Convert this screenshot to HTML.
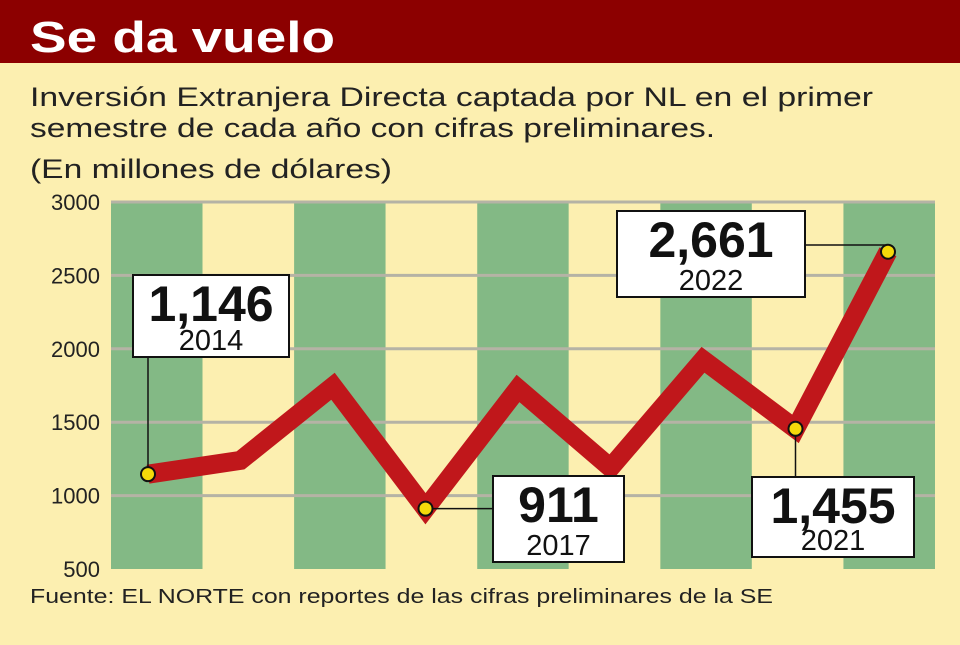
<!DOCTYPE html>
<html><head><meta charset="utf-8"><style>
body{margin:0;width:960px;height:640px;overflow:hidden;background:#fcefb0;font-family:"Liberation Sans",sans-serif}
</style></head><body>
<svg width="960" height="640" xmlns="http://www.w3.org/2000/svg">
<rect x="0" y="0" width="960" height="640" fill="#fcefb0"/>
<rect x="0" y="0" width="960" height="63" fill="#8c0000"/>
<text x="30" y="52" font-size="44" font-weight="bold" fill="#fff" textLength="305" lengthAdjust="spacingAndGlyphs">Se da vuelo</text>
<text x="30" y="106" font-size="27" fill="#222" textLength="843" lengthAdjust="spacingAndGlyphs">Inversión Extranjera Directa captada por NL en el primer</text>
<text x="30" y="137" font-size="27" fill="#222" textLength="685" lengthAdjust="spacingAndGlyphs">semestre de cada año con cifras preliminares.</text>
<text x="30" y="178" font-size="27" fill="#222" textLength="362" lengthAdjust="spacingAndGlyphs">(En millones de dólares)</text>
<g id="stripes"></g><g id="grid"></g><g id="yticks"></g><g id="lines"></g>
<text x="30" y="603" font-size="20" fill="#222" textLength="743" lengthAdjust="spacingAndGlyphs">Fuente: EL NORTE con reportes de las cifras preliminares de la SE</text>
</svg>
<script>
const years=[2014,2015,2016,2017,2018,2019,2020,2021,2022];
const values=[1146,1240,1745,911,1730,1190,1925,1455,2661];
const yTicks=[500,1000,1500,2000,2500,3000];
const ns="http://www.w3.org/2000/svg";
const L=111,R=935,T=202,B=569;
const y=v=>B-(v-500)/2500*(B-T);
const colW=(R-L)/years.length;
const x=i=>148+i*92.5;
function mk(t,a,p){const e=document.createElementNS(ns,t);for(const k in a)e.setAttribute(k,a[k]);(p||document.querySelector('svg')).appendChild(e);return e;}
years.forEach((yr,i)=>{
 const r=mk('rect',{x:L+i*colW,y:T,width:colW,height:B-T,fill:i%2==0?'#83b985':'#fcefb0'},document.getElementById('stripes'));
 
 
});
yTicks.forEach(v=>{
 if(v>500){const g=mk('line',{x1:L,x2:R,y1:y(v),y2:y(v),stroke:'#b5b3a5','stroke-width':3},document.getElementById('grid'));
 
 }
 const t=mk('text',{x:100,y:y(v)+8,'font-size':22,fill:'#222','text-anchor':'end'},document.getElementById('yticks'));
 
 
 t.textContent=v;
});
const pts=values.map((v,i)=>x(i)+','+y(v)).join(' ');
const ln=mk('polyline',{points:pts,fill:'none',stroke:'#c0171b','stroke-width':19,'stroke-linejoin':'miter','stroke-miterlimit':3},document.getElementById('lines'));


const callouts=[[0,133,275,156,82,'v'],[3,493,476,131,86,'h'],[7,752,477,162,80,'v'],[8,617,211,188,86,'h2']];
callouts.forEach(([i,bx,by,bw,bh,tp])=>{
 const px=x(i),py=y(values[i]);
 let d;
 if(tp=='v')d=py<by?`M${px},${py} V${by}`:`M${px},${py} V${by+bh}`;
 else if(tp=='h')d=`M${px},${py} H${bx}`;
 else d=`M${bx+bw},${by+34} H${px} V${py}`;
 const l=mk('path',{d:d,stroke:'#111','stroke-width':1.5,fill:'none'});
 
 
 const b=mk('rect',{x:bx,y:by,width:bw,height:bh,fill:'#fff',stroke:'#111','stroke-width':2});
 
 
 const v=mk('text',{x:bx+bw/2,y:by+46,'font-size':50,'font-weight':'bold',fill:'#111','text-anchor':'middle'});
 
 
 v.textContent=values[i].toLocaleString('en-US');
 const yt=mk('text',{x:bx+bw/2,y:by+bh-7,'font-size':29,fill:'#111','text-anchor':'middle'});
 
 
 yt.textContent=years[i];
});
[0,3,7,8].forEach(i=>{
 const c=mk('circle',{cx:x(i),cy:y(values[i]),r:7,fill:'#f5d90a',stroke:'#111','stroke-width':2});
 
 
});
</script>
</body></html>
